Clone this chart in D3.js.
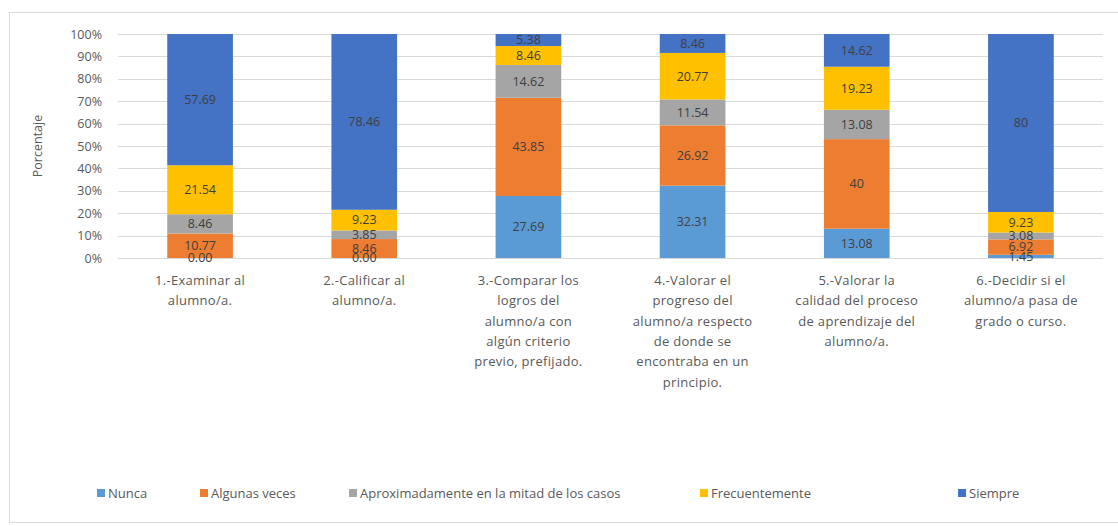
<!DOCTYPE html>
<html>
<head>
<meta charset="utf-8">
<script src="https://cdn.jsdelivr.net/npm/d3@7"></script>
<style>
  body { margin: 0; background: #fff; }
  text { font-family: "Open Sans", sans-serif; }
</style>
</head>
<body>
<div id="chart"></div>
<script>
// Categories (each one split in the lines shown under the bar)
const categories = [
  ["1.-Examinar al", "alumno/a."],
  ["2.-Calificar al", "alumno/a."],
  ["3.-Comparar los", "logros del", "alumno/a con", "algún criterio", "previo, prefijado."],
  ["4.-Valorar el", "progreso del", "alumno/a respecto", "de donde se", "encontraba en un", "principio."],
  ["5.-Valorar la", "calidad del proceso", "de aprendizaje del", "alumno/a."],
  ["6.-Decidir si el", "alumno/a pasa de", "grado o curso."]
];
const seriesNames = ["Nunca", "Algunas veces", "Aproximadamente en la mitad de los casos", "Frecuentemente", "Siempre"];
const nunca        = [0, 0, 27.69, 32.31, 13.08, 1.45];
const algunasVeces = [10.77, 8.46, 43.85, 26.92, 40, 6.92];
const aproximado   = [8.46, 3.85, 14.62, 11.54, 13.08, 3.08];
const frecuente    = [21.54, 9.23, 8.46, 20.77, 19.23, 9.23];
const siempre      = [57.69, 78.46, 5.38, 8.46, 14.62, 80];
const yTicks = [0, 0.1, 0.2, 0.3, 0.4, 0.5, 0.6, 0.7, 0.8, 0.9, 1];

const colors = ["#5B9BD5", "#ED7D31", "#A5A5A5", "#FFC000", "#4472C4"];
const seriesValues = [nunca, algunasVeces, aproximado, frecuente, siempre];

const W = 1118, H = 526;
const margin = { top: 34, right: 15, bottom: 268, left: 118 };
const width = W - margin.left - margin.right;
const height = H - margin.top - margin.bottom;

const svgRoot = d3.select("#chart").append("svg")
  .attr("width", W)
  .attr("height", H);

// chart frame
svgRoot.append("rect")
  .attr("x", 9.5).attr("y", 12.5)
  .attr("width", W).attr("height", 510)
  .attr("fill", "none")
  .attr("stroke", "#D9D9D9");

const svg = svgRoot.append("g")
  .attr("transform", "translate(" + margin.left + "," + margin.top + ")");

// build rows for the stack (normalized to 100%)
const rows = categories.map(function(c, i) {
  const row = { idx: i };
  let total = 0;
  seriesNames.forEach(function(s, j) { total += seriesValues[j][i]; });
  seriesNames.forEach(function(s, j) {
    row[s] = seriesValues[j][i] / total;
    row["raw_" + s] = seriesValues[j][i];
  });
  return row;
});

const x = d3.scaleBand()
  .domain(d3.range(categories.length))
  .range([0, width])
  .paddingInner(0.6)
  .paddingOuter(0.3);

const y = d3.scaleLinear().domain([0, 1]).range([height, 0]);

// gridlines
svg.selectAll("line.grid")
  .data(yTicks)
  .enter().append("line")
  .attr("class", "grid")
  .attr("x1", 0).attr("x2", width)
  .attr("y1", function(d) { return Math.round(y(d)) + 0.5; })
  .attr("y2", function(d) { return Math.round(y(d)) + 0.5; })
  .attr("stroke", "#D9D9D9")
  .attr("stroke-width", 1);

// y axis labels
const yAxis = d3.axisLeft(y).tickValues(yTicks).tickFormat(d3.format(".0%")).tickSize(0).tickPadding(16);
svg.append("g").call(yAxis)
  .call(function(g) { g.select(".domain").remove(); })
  .selectAll("text")
  .attr("fill", "#595959")
  .style("font-size", "12.5px")
  .style("font-family", "Open Sans, sans-serif");

// y axis title
svg.append("text")
  .attr("transform", "rotate(-90)")
  .attr("x", -height / 2)
  .attr("y", -76)
  .attr("text-anchor", "middle")
  .attr("fill", "#595959")
  .style("font-size", "12.5px")
  .text("Porcentaje");

const stack = d3.stack().keys(seriesNames);
const stacked = stack(rows);

const layers = svg.selectAll("g.layer")
  .data(stacked)
  .enter().append("g")
  .attr("class", "layer")
  .attr("fill", function(d, i) { return colors[i]; });

layers.selectAll("rect")
  .data(function(d) { return d; })
  .enter().append("rect")
  .attr("x", function(d) { return x(d.data.idx); })
  .attr("y", function(d) { return y(d[1]); })
  .attr("height", function(d) { return y(d[0]) - y(d[1]); })
  .attr("width", x.bandwidth());

function fmt(v) {
  if (v !== 0 && Number.isInteger(v)) return String(v);
  return v.toFixed(2);
}

// data labels
stacked.forEach(function(layer) {
  svg.append("g").selectAll("text")
    .data(layer)
    .enter().append("text")
    .attr("x", function(d) { return x(d.data.idx) + x.bandwidth() / 2; })
    .attr("y", function(d) { return (y(d[0]) + y(d[1])) / 2; })
    .attr("dy", "0.35em")
    .attr("text-anchor", "middle")
    .attr("fill", "#404040")
    .style("font-size", "12.5px")
    .text(function(d) { return fmt(d.data["raw_" + layer.key]); });
});

// category labels
const catG = svg.append("g").attr("transform", "translate(0," + height + ")");
categories.forEach(function(lines, i) {
  const t = catG.append("text")
    .attr("text-anchor", "middle")
    .attr("fill", "#595959")
    .style("font-size", "13px")
    .style("letter-spacing", "0.3px");
  lines.forEach(function(line, k) {
    t.append("tspan")
      .attr("x", x(i) + x.bandwidth() / 2)
      .attr("y", 27 + k * 20.3)
      .text(line);
  });
});

// legend (item positions)
const legendX = [97, 200, 349, 700, 958];
const legend = svgRoot.append("g").attr("transform", "translate(0,493)");
seriesNames.forEach(function(name, i) {
  const item = legend.append("g").attr("transform", "translate(" + legendX[i] + ",0)");
  item.append("rect")
    .attr("x", 0).attr("y", -4)
    .attr("width", 8).attr("height", 8)
    .attr("fill", colors[i]);
  item.append("text")
    .attr("x", 11)
    .attr("dy", "0.35em")
    .attr("fill", "#595959")
    .style("font-size", "13px")
    .text(name);
});
</script>
</body>
</html>
